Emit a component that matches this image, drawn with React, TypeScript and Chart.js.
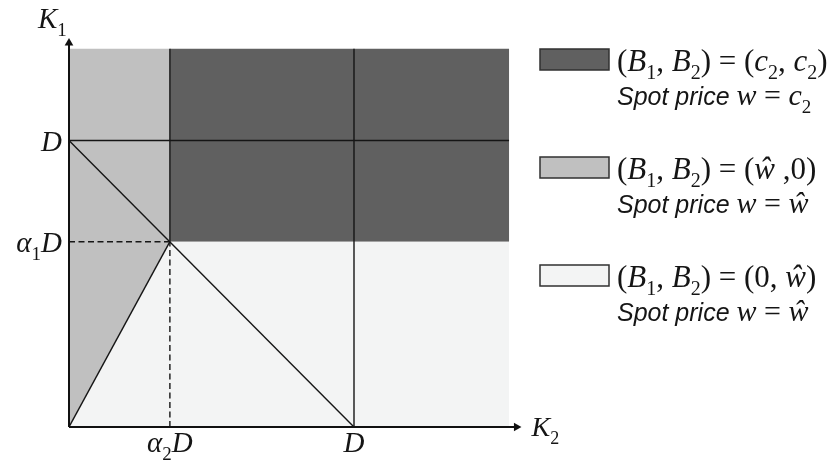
import React, { useEffect, useRef } from 'react';
import { Chart, registerables } from 'chart.js';

Chart.register(...registerables);

// ---- values (in units of D) ----
const D = 1;
const alpha1D = 0.647;
const alpha2D = 0.354;
const regionRight = 1.544;
const regionTop = 1.321;
const axisXEnd = 1.57;
const axisYEnd = 1.341;

const xTickValues = [alpha2D, D];
const xTickLabels = ['α₂D', 'D'];
const yTickValues = [D, alpha1D];
const yTickLabels = ['D', 'α₁D'];
const xAxisTitle = 'K₂';
const yAxisTitle = 'K₁';

const regionColors = ['#606060', '#c0c0c0', '#f3f4f4'];
const legendBids = ['(B₁, B₂) = (c₂, c₂)', '(B₁, B₂) = (ŵ ,0)', '(B₁, B₂) = (0, ŵ)'];
const legendPrices = ['w = c₂', 'w = ŵ', 'w = ŵ'];
const legendPrefix = 'Spot price ';

// polygons of the three regions
const darkRegionX = [alpha2D, regionRight, regionRight, alpha2D, alpha2D];
const darkRegionY = [alpha1D, alpha1D, regionTop, regionTop, alpha1D];
const grayRegionX = [0, alpha2D, alpha2D, 0, 0];
const grayRegionY = [0, alpha1D, regionTop, regionTop, 0];
const lightRegionX = [0, regionRight, regionRight, alpha2D, 0];
const lightRegionY = [0, 0, alpha1D, alpha1D, 0];

const SERIF = '"Liberation Serif", "Times New Roman", serif';
const SANS = '"Liberation Sans", Arial, sans-serif';
const SUB_DIGITS = '₀₁₂₃₄₅₆₇₈₉';

type Run = { t: string; font: string; dy: number };

function mathRuns(text: string, size: number): Run[] {
  const out: Run[] = [];
  for (const ch of text) {
    const s = SUB_DIGITS.indexOf(ch);
    if (s >= 0) out.push({ t: String(s), font: `${Math.round(size * 0.64)}px ${SERIF}`, dy: size * 0.27 });
    else if (/[A-Za-zα-ωŵ]/.test(ch)) out.push({ t: ch, font: `italic ${size}px ${SERIF}`, dy: 0 });
    else out.push({ t: ch, font: `${size}px ${SERIF}`, dy: 0 });
  }
  return out;
}

function drawRuns(ctx: CanvasRenderingContext2D, runs: Run[], x: number, y: number, align: string) {
  let total = 0;
  const widths = runs.map((r) => {
    ctx.font = r.font;
    const w = ctx.measureText(r.t).width;
    total += w;
    return w;
  });
  let cx = align === 'left' ? x : align === 'right' ? x - total : x - total / 2;
  ctx.textBaseline = 'alphabetic';
  ctx.textAlign = 'left';
  runs.forEach((r, i) => {
    ctx.font = r.font;
    ctx.fillText(r.t, cx, y + r.dy);
    cx += widths[i];
  });
  return total;
}

const pts = (xs: number[], ys: number[]) => xs.map((x, i) => ({ x, y: ys[i] }));

const labelsPlugin = {
  id: 'mathLabels',
  afterDraw(chart: any) {
    const { ctx, scales } = chart;
    const x = scales.x;
    const y = scales.y;
    const x0 = x.getPixelForValue(0);
    const y0 = y.getPixelForValue(0);
    ctx.save();
    ctx.fillStyle = '#151515';
    yTickValues.forEach((v, i) => {
      drawRuns(ctx, mathRuns(yTickLabels[i], 29), x0 - 7, y.getPixelForValue(v) + 10, 'right');
    });
    xTickValues.forEach((v, i) => {
      drawRuns(ctx, mathRuns(xTickLabels[i], 29), x.getPixelForValue(v), y0 + 25, 'center');
    });
    drawRuns(ctx, mathRuns(yAxisTitle, 29), x0 - 31, y.getPixelForValue(axisYEnd) - 15, 'left');
    drawRuns(ctx, mathRuns(xAxisTitle, 28), x.getPixelForValue(axisXEnd) + 15, y0 + 9, 'left');

    // legend
    const boxX = chart.chartArea.right + 15;
    const boxTops = [49, 157, 265];
    regionColors.forEach((c, i) => {
      const top = boxTops[i];
      ctx.fillStyle = c;
      ctx.fillRect(boxX, top, 69, 21);
      ctx.strokeStyle = '#303030';
      ctx.lineWidth = 1.5;
      ctx.strokeRect(boxX, top, 69, 21);
      ctx.fillStyle = '#151515';
      drawRuns(ctx, mathRuns(legendBids[i], 31), boxX + 77, top + 22, 'left');
      const runs: Run[] = [{ t: legendPrefix, font: `italic 25px ${SANS}`, dy: 0 }].concat(
        mathRuns(legendPrices[i], 30)
      );
      drawRuns(ctx, runs, boxX + 77, top + 56, 'left');
    });
    ctx.restore();
  },
};

function regionDs(xs: number[], ys: number[], color: string) {
  return {
    data: pts(xs, ys),
    showLine: true,
    fill: 'shape',
    backgroundColor: color,
    borderColor: 'rgba(0,0,0,0)',
    borderWidth: 0,
    pointRadius: 0,
    order: 3,
  };
}

function lineDs(xs: number[], ys: number[], dashed = false, width = 1.4) {
  return {
    data: pts(xs, ys),
    showLine: true,
    fill: false,
    borderColor: '#151515',
    borderWidth: width,
    borderDash: dashed ? [6, 3.5] : [],
    pointRadius: 0,
    order: 2,
  };
}

function axisDs(xs: number[], ys: number[], rotation: number) {
  return {
    data: pts(xs, ys),
    showLine: true,
    fill: false,
    borderColor: '#111111',
    borderWidth: 2,
    pointStyle: 'triangle',
    pointRadius: [0, 5],
    pointRotation: [0, rotation],
    pointBackgroundColor: '#111111',
    pointBorderColor: '#111111',
    pointBorderWidth: 0,
    clip: false,
    order: 1,
  };
}

export default function App() {
  const ref = useRef<HTMLCanvasElement | null>(null);
  useEffect(() => {
    document.body.style.margin = '0';
    const canvas = ref.current;
    if (!canvas) return;
    const chart = new Chart(canvas, {
      type: 'scatter',
      data: {
        datasets: [
          regionDs(lightRegionX, lightRegionY, regionColors[2]),
          regionDs(grayRegionX, grayRegionY, regionColors[1]),
          regionDs(darkRegionX, darkRegionY, regionColors[0]),
          lineDs([0, regionRight], [D, D]),
          lineDs([D, D], [0, regionTop]),
          lineDs([alpha2D, alpha2D], [alpha1D, regionTop]),
          lineDs([alpha2D, alpha2D], [0, alpha1D], true),
          lineDs([0, alpha2D], [alpha1D, alpha1D], true),
          lineDs([0, D], [D, 0]),
          lineDs([0, alpha2D], [0, alpha1D]),
          axisDs([0, axisXEnd], [0, 0], 90),
          axisDs([0, 0], [0, axisYEnd], 0),
        ] as any,
      },
      options: {
        animation: false,
        responsive: false,
        events: [],
        layout: { padding: { left: 69, right: 306, top: 26, bottom: 34 } },
        scales: {
          x: { type: 'linear', min: 0, max: 1.6, display: false },
          y: { type: 'linear', min: 0, max: 1.4, display: false },
        },
        plugins: { legend: { display: false }, tooltip: { enabled: false } },
      },
      plugins: [labelsPlugin],
    } as any);
    return () => chart.destroy();
  }, []);
  return (
    <div style={{ position: 'absolute', left: 0, top: 0, width: 831, height: 461, background: '#fff' }}>
      <canvas ref={ref} width={831} height={461} style={{ display: 'block' }} />
    </div>
  );
}
